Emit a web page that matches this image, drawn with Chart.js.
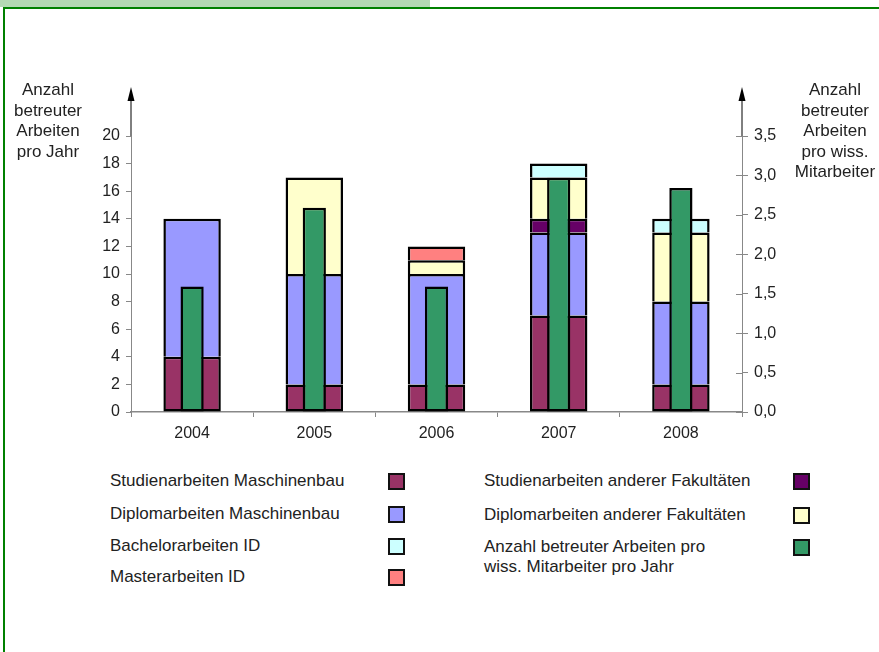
<!DOCTYPE html>
<html>
<head>
<meta charset="utf-8">
<script src="https://cdn.jsdelivr.net/npm/chart.js@4/dist/chart.umd.min.js"></script>
<style>
  body { margin: 0; background: #fff; font-family: "Liberation Sans", Arial, sans-serif; color: #222; }
  #page { position: relative; width: 879px; height: 652px; overflow: hidden; }
  #strip { position: absolute; left: 0; top: 0; width: 430px; height: 7px; background: #b3d9b3; }
  #frame { position: absolute; left: 3px; top: 7px; width: 900px; height: 700px; border-top: 2px solid #008000; border-left: 2px solid #008000; }
  canvas { position: absolute; left: 0; top: 0; }
  .title { position: absolute; text-align: center; font-size: 17px; line-height: 20.6px; }
  .leg { position: absolute; font-size: 17px; line-height: 20px; }
  .box { position: absolute; width: 13px; height: 13px; border: 2px solid #111; }
</style>
</head>
<body>
<div id="page">
  <div id="strip"></div>
  <div id="frame"></div>
  <canvas id="chart" width="879" height="440"></canvas>
  <div class="title" style="left:0; width:96px; top:80px;">Anzahl<br>betreuter<br>Arbeiten<br>pro Jahr</div>
  <div class="title" style="left:788px; width:94px; top:80px;">Anzahl<br>betreuter<br>Arbeiten<br>pro wiss.<br>Mitarbeiter</div>
  <div id="legend"></div>
</div>
<script>
// Jahre (Kategorien)
const years = ['2004', '2005', '2006', '2007', '2008'];

// Anzahl betreuter Arbeiten pro Jahr (gestapelt, linke Achse)
const studienMB = [4, 2, 2, 7, 2];
const diplomMB = [10, 8, 8, 6, 6];
const studienAndere = [0, 0, 0, 1, 0];
const diplomAndere = [0, 7, 1, 3, 5];
const bachelorID = [0, 0, 0, 1, 1];
const masterID = [0, 0, 1, 0, 0];

// Anzahl betreuter Arbeiten pro wiss. Mitarbeiter (rechte Achse)
const proMitarbeiter = [1.59, 2.59, 1.59, 2.97, 2.84];

const leftTicks = { min: 0, max: 20, step: 2 };
const rightTicks = { min: 0, max: 3.5, step: 0.5 };

// Legende: [Text, Farbe, Text-x, y, Kasten-x]
const legendItems = [
    ['Studienarbeiten Maschinenbau', '#993366', 110, 471, 388],
    ['Diplomarbeiten Maschinenbau', '#9999ff', 110, 504, 388],
    ['Bachelorarbeiten ID', '#ccffff', 110, 536, 388],
    ['Masterarbeiten ID', '#ff8080', 110, 567, 388],
    ['Studienarbeiten anderer Fakultäten', '#660066', 484, 471, 793],
    ['Diplomarbeiten anderer Fakultäten', '#ffffcc', 484, 505, 793],
    ['Anzahl betreuter Arbeiten pro<br>wiss. Mitarbeiter pro Jahr', '#339966', 484, 537, 793]
];

const legend = document.getElementById('legend');
legendItems.forEach(item => {
    const t = document.createElement('div');
    t.className = 'leg';
    t.style.left = item[2] + 'px';
    t.style.top = item[3] + 'px';
    t.innerHTML = item[0];
    legend.appendChild(t);
    const b = document.createElement('div');
    b.className = 'box';
    b.style.left = item[4] + 'px';
    b.style.top = (item[3] + 2) + 'px';
    b.style.background = item[1];
    legend.appendChild(b);
});

function stackSet(label, data, color, skip) {
    return {
        label: label,
        data: data,
        backgroundColor: color,
        borderColor: '#000',
        borderWidth: 2.5,
        borderSkipped: skip,
        grouped: false,
        yAxisID: 'y',
        stack: 'arbeiten',
        barPercentage: 0.47,
        categoryPercentage: 1
    };
}

// Pfeile an den Achsen und Teilstriche rechts
const axisArrows = {
    id: 'axisArrows',
    afterDraw(chart) {
        const ctx = chart.ctx;
        const area = chart.chartArea;
        ctx.save();
        [area.left, area.right].forEach(x => {
            ctx.strokeStyle = '#000';
            ctx.lineWidth = 1;
            ctx.beginPath();
            ctx.moveTo(x, area.top);
            ctx.lineTo(x, 96);
            ctx.stroke();
            ctx.fillStyle = '#000';
            ctx.beginPath();
            ctx.moveTo(x, 87);
            ctx.lineTo(x - 3.5, 101);
            ctx.lineTo(x + 3.5, 101);
            ctx.closePath();
            ctx.fill();
        });
        const y2 = chart.scales.y2;
        ctx.strokeStyle = '#888';
        y2.ticks.forEach(t => {
            const y = Math.round(y2.getPixelForValue(t.value)) + 0.5;
            ctx.beginPath();
            ctx.moveTo(area.right - 6, y);
            ctx.lineTo(area.right, y);
            ctx.stroke();
        });
        ctx.restore();
    }
};

const ctx = document.getElementById('chart').getContext('2d');
new Chart(ctx, {
    type: 'bar',
    data: {
        labels: years,
        datasets: [
            {
                label: 'Anzahl betreuter Arbeiten pro wiss. Mitarbeiter pro Jahr',
                data: proMitarbeiter,
                backgroundColor: '#339966',
                borderColor: '#000',
                borderWidth: 2.5,
                borderSkipped: false,
                grouped: false,
                yAxisID: 'y2',
                stack: 'mitarbeiter',
                barPercentage: 0.19,
                categoryPercentage: 1
            },
            stackSet('Studienarbeiten Maschinenbau', studienMB, '#993366', false),
            stackSet('Diplomarbeiten Maschinenbau', diplomMB, '#9999ff', 'start'),
            stackSet('Studienarbeiten anderer Fakultäten', studienAndere, '#660066', 'start'),
            stackSet('Diplomarbeiten anderer Fakultäten', diplomAndere, '#ffffcc', 'start'),
            stackSet('Bachelorarbeiten ID', bachelorID, '#ccffff', 'start'),
            stackSet('Masterarbeiten ID', masterID, '#ff8080', 'start')
        ]
    },
    options: {
        responsive: false,
        animation: false,
        devicePixelRatio: 1,
        layout: { padding: { top: 136, left: 0, right: 0, bottom: 0 } },
        plugins: {
            legend: { display: false },
            tooltip: { enabled: false }
        },
        scales: {
            x: {
                stacked: true,
                afterFit: scale => { scale.height = 28; },
                grid: { drawOnChartArea: false, tickLength: 5, color: '#888', offset: true },
                border: { color: '#888', width: 1.5 },
                ticks: { color: '#222', font: { size: 16, family: 'Liberation Sans' }, padding: 7 }
            },
            y: {
                stacked: true,
                position: 'left',
                min: leftTicks.min,
                max: leftTicks.max,
                afterFit: scale => { scale.width = 131; },
                grid: { drawOnChartArea: false, tickLength: 5, color: '#888' },
                border: { color: '#888', width: 1 },
                ticks: { stepSize: leftTicks.step, color: '#222', font: { size: 16, family: 'Liberation Sans' }, padding: 6 }
            },
            y2: {
                position: 'right',
                min: rightTicks.min,
                max: rightTicks.max,
                afterFit: scale => { scale.width = 137; },
                grid: { drawOnChartArea: false, tickLength: 6, color: '#888' },
                border: { color: '#888', width: 1 },
                ticks: {
                    stepSize: rightTicks.step,
                    color: '#222',
                    font: { size: 16, family: 'Liberation Sans' },
                    padding: 6,
                    callback: v => v.toFixed(1).replace('.', ',')
                }
            }
        }
    },
    plugins: [axisArrows]
});
</script>
</body>
</html>
